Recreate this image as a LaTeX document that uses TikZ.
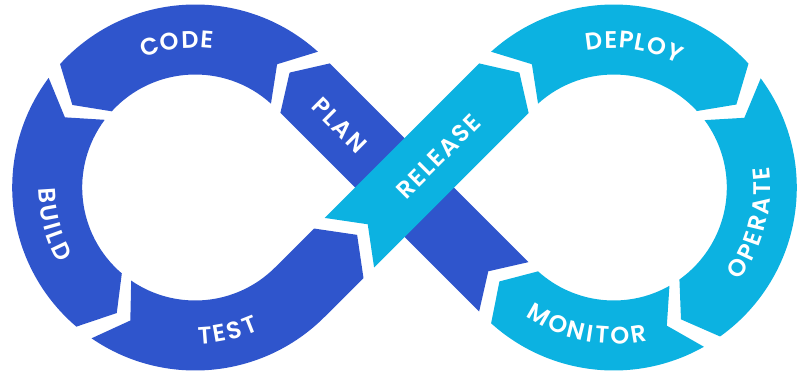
\documentclass[tikz,border=0pt]{standalone}
\usepackage{fontspec}
\setmainfont{Poppins}[BoldFont={Poppins SemiBold}]
\usetikzlibrary{decorations.text}

\definecolor{devblue}{HTML}{2F55CC}
\definecolor{opscyan}{HTML}{0CB2E1}
\newcommand{\phasefont}{\fontsize{24}{24}\selectfont\bfseries\addfontfeature{LetterSpace=8}}

\tikzset{
  phase/.style={text=white, font=\phasefont, inner sep=0pt},
  arcphase/.style={decorate, decoration={text along path, text align=center, text color=white, text={|\phasefont|#1}}},
}

\begin{document}
\begin{tikzpicture}[x=1pt, y=1pt]
  \useasboundingbox (-404.5,-187.5) rectangle (400.5,187.5);
  \coordinate (L) at (-209.3,0);
  \coordinate (R) at (209.3,0);

  % PLAN band, it runs under RELEASE
  \begin{scope}[rotate=-45]
    \coordinate (planc) at (-90,-2);
    \fill[devblue] (140.5,35) -- (-140.5,35) -- (-162.5,0) -- (-140.5,-35) -- (140.5,-35) -- (118.5,0) -- cycle;
  \end{scope}

  % RELEASE band
  \begin{scope}[rotate=45]
    \coordinate (testA) at (-93,-35);
    \coordinate (testTip) at (-67,0);
    \coordinate (testB) at (-93,35);
    \coordinate (relc) at (46,-2);
    \fill[opscyan] (-78,-35) -- (140.5,-35) -- (162.5,0) -- (140.5,35) -- (-78,35) -- (-52,0) -- cycle;
  \end{scope}

  % left loop
  \begin{scope}[shift={(L)}]
    % CODE
    \fill[devblue] (47.9:183) arc[start angle=47.9, end angle=137.6, radius=183] -- (146.1:148) -- (137.6:113) arc[start angle=137.6, end angle=47.9, radius=113] -- (56.4:148) -- cycle;
    % BUILD
    \fill[devblue] (143.2:183) arc[start angle=143.2, end angle=229.5, radius=183] -- (238:148) -- (229.5:113) arc[start angle=229.5, end angle=143.2, radius=113] -- (151.7:148) -- cycle;
    % TEST, goes on into the straight band
    \fill[devblue] (235.5:183) arc[start angle=235.5, end angle=315, radius=183] -- (testA) -- (testTip) -- (testB) -- (315:113) arc[start angle=315, end angle=235.5, radius=113] -- (244:148) -- cycle;
    \path[arcphase={{C\kern1pt}{O\kern1pt}{D\kern1pt}E}] (142.3:139.6) arc[start angle=142.3, end angle=52.3, radius=139.6];
    \path[arcphase={{B\kern2.5pt}{U\kern2.5pt}{I\kern2.5pt}{L\kern2.5pt}D}] (149.6:156.4) arc[start angle=149.6, end angle=239.6, radius=156.4];
    \path[arcphase={{T\kern2.5pt}{E\kern2.5pt}{S\kern2.5pt}T}] (237.7:156.4) arc[start angle=237.7, end angle=327.7, radius=156.4];
  \end{scope}

  % right loop
  \begin{scope}[shift={(R)}]
    % DEPLOY
    \fill[opscyan] (132.1:183) arc[start angle=132.1, end angle=42.6, radius=183] -- (34.1:148) -- (42.6:113) arc[start angle=42.6, end angle=132.1, radius=113] -- (123.6:148) -- cycle;
    % OPERATE
    \fill[opscyan] (36.6:183) arc[start angle=36.6, end angle=-54.5, radius=183] -- (-63:148) -- (-54.5:113) arc[start angle=-54.5, end angle=36.6, radius=113] -- (28.1:148) -- cycle;
    % MONITOR
    \fill[opscyan] (-60.5:183) arc[start angle=-60.5, end angle=-132.1, radius=183] -- (-140.6:148) -- (-132.1:113) arc[start angle=-132.1, end angle=-60.5, radius=113] -- (-69:148) -- cycle;
    \path[arcphase={{D\kern1pt}{E\kern1pt}{P\kern1pt}{L\kern1pt}{O\kern1pt}Y}] (126.8:139.6) arc[start angle=126.8, end angle=36.8, radius=139.6];
    \path[arcphase={{O\kern2.5pt}{P\kern2.5pt}{E\kern2.5pt}{R\kern2.5pt}{A\kern2.5pt}{T\kern2.5pt}E}] (-59.4:156.4) arc[start angle=-59.4, end angle=30.6, radius=156.4];
    \path[arcphase={{M\kern2.5pt}{O\kern2.5pt}{N\kern2.5pt}{I\kern2.5pt}{T\kern2.5pt}{O\kern2.5pt}R}] (214:156.4) arc[start angle=214, end angle=304, radius=156.4];
  \end{scope}

  \node[phase, rotate=-45] (plan) at (planc) {PLAN};
  \node[phase, rotate=45] (release) at (relc) {RELEASE};
\end{tikzpicture}
\end{document}
